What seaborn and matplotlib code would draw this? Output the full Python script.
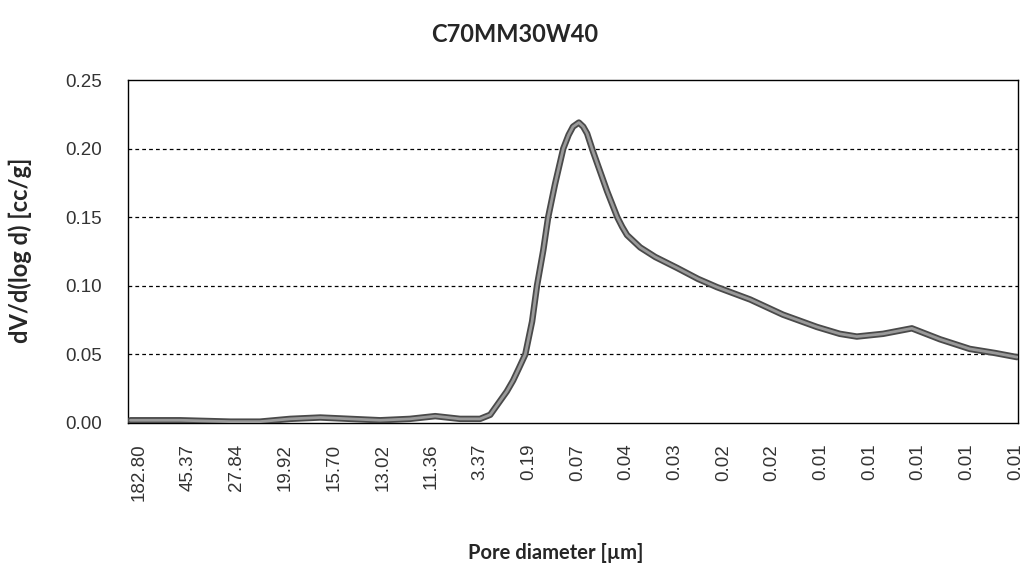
import pandas as pd
import seaborn as sns
import matplotlib.pyplot as plt

# category labels along the x axis (pore diameter, um)
diam_labels = ['182.80', '45.37', '27.84', '19.92', '15.70', '13.02', '11.36', '3.37',
               '0.19', '0.07', '0.04', '0.03', '0.02', '0.02', '0.01', '0.01', '0.01',
               '0.01', '0.01']

# curve: position in label units and dV/d(log d)
pos = [-0.18, 0.84, 1.87, 2.48, 3.10, 3.72, 4.33, 4.95, 5.56, 6.08, 6.59, 7.0, 7.21,
       7.41, 7.55, 7.68, 7.80, 7.93, 8.07, 8.17, 8.30, 8.40, 8.54, 8.71, 8.82, 8.91,
       9.03, 9.12, 9.20, 9.32, 9.47, 9.61, 9.82, 9.92, 10.02, 10.29, 10.60, 11.05,
       11.48, 11.87, 12.55, 13.22, 13.92, 14.39, 14.74, 15.28, 15.87, 16.45, 17.06,
       17.58, 18.03]
dvdlogd = [0.002, 0.002, 0.001, 0.001, 0.003, 0.004, 0.003, 0.002, 0.003, 0.005,
           0.003, 0.003, 0.006, 0.016, 0.023, 0.031, 0.040, 0.050, 0.074, 0.100,
           0.126, 0.150, 0.174, 0.200, 0.210, 0.216, 0.219, 0.216, 0.211, 0.198,
           0.183, 0.169, 0.150, 0.143, 0.137, 0.128, 0.121, 0.113, 0.105, 0.099,
           0.090, 0.079, 0.070, 0.065, 0.063, 0.065, 0.069, 0.061, 0.054, 0.051,
           0.048]

df = pd.DataFrame({'pos': pos, 'value': dvdlogd})

sns.set_style('white')
plt.rcParams['font.family'] = ['Liberation Sans', 'DejaVu Sans']

fig = plt.figure(figsize=(10.29, 5.7), dpi=100)
ax = fig.add_axes([0.1244, 0.2579, 0.8649, 0.6017])

for y in [0.05, 0.10, 0.15, 0.20]:
    ax.axhline(y, color='black', lw=0.9, ls=(0, (3, 2.5)), zorder=1)

sns.lineplot(data=df, x='pos', y='value', color='#4a4a4a', lw=4.6, ax=ax, zorder=3)
sns.lineplot(data=df, x='pos', y='value', color='#9a9a9a', lw=2.0, ax=ax, zorder=4)

ax.set_xlim(-0.23, 18.05)
ax.set_ylim(0, 0.25)
ax.set_yticks([0, 0.05, 0.10, 0.15, 0.20, 0.25])
ax.set_yticklabels(['0.00', '0.05', '0.10', '0.15', '0.20', '0.25'])
ax.set_xticks(range(len(diam_labels)))
ax.set_xticklabels(diam_labels, rotation=90)
ax.tick_params(axis='y', length=6, width=0.9, direction='out', labelsize=13.5,
               labelcolor='#333333', pad=13)
ax.tick_params(axis='x', length=0, labelsize=13.5, labelcolor='#333333', pad=15)

for s in ax.spines.values():
    s.set_color('black')
    s.set_linewidth(1.0)

ax.set_xlabel('')
ax.set_ylabel('')
fig.text(0.5, 0.939, 'C70MM30W40', ha='center', va='center', fontsize=17,
         fontweight='bold', family=['Lato', 'DejaVu Sans'])
fig.text(0.54, 0.03, 'Pore diameter [\u00b5m]', ha='center', va='center', fontsize=14.5,
         fontweight='bold', family=['Lato', 'DejaVu Sans'])
fig.text(0.02, 0.56, 'dV/d(log d) [cc/g]', ha='center', va='center', rotation=90,
         fontsize=17, fontweight='bold', family=['Lato', 'DejaVu Sans'])

plt.savefig('out.png', dpi=100)
